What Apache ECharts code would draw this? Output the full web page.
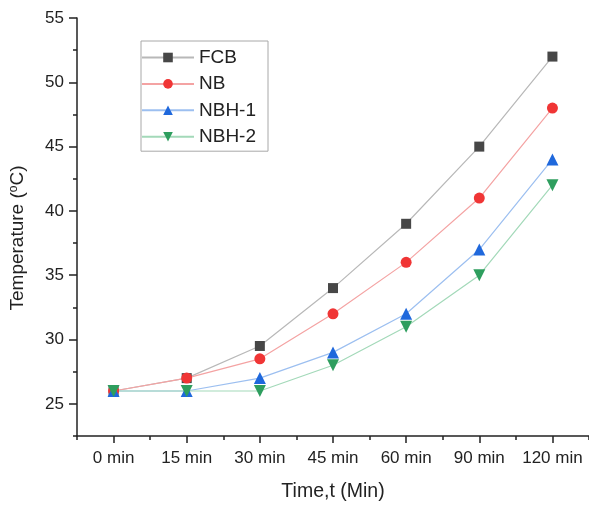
<!DOCTYPE html>
<html>
<head>
<meta charset="utf-8">
<script src="https://cdn.jsdelivr.net/npm/echarts@6/dist/echarts.min.js"></script>
<style>
  html, body { margin: 0; padding: 0; background: #fff; }
  #chart1 { width: 589px; height: 507px; }
</style>
</head>
<body>
<div id="chart1"></div>
<script>
const times = ["0 min", "15 min", "30 min", "45 min", "60 min", "90 min", "120 min"]
const fcb = [26, 27, 29.5, 34, 39, 45, 52]
const nb = [26, 27, 28.5, 32, 36, 41, 48]
const nbh1 = [26, 26, 27, 29, 32, 37, 44]
const nbh2 = [26, 26, 26, 28, 31, 35, 42]
const yTicks = [25, 30, 35, 40, 45, 50, 55]

const font = "Liberation Sans, Arial, sans-serif"

function makeSeries(name, data, markerColor, lineColor, symbol, size, rotate){
  return {
    name: name,
    type: 'line',
    data: data,
    symbol: symbol,
    symbolSize: size,
    symbolRotate: rotate || 0,
    smooth: false,
    itemStyle: { color: markerColor, opacity: 1 },
    lineStyle: { color: lineColor, width: 1.2 },
    emphasis: { disabled: true },
    z: 3
  }
}

let chart = echarts.init(document.getElementById("chart1"), null, { renderer: 'canvas' })

let options = {
  backgroundColor: "white",
  animation: false,
  textStyle: { fontFamily: font },
  // the x axis runs a little past the right edge in the reference
  grid: { left: 72.5, width: 521.5, top: 18, bottom: 69, containLabel: false },
  legend: {
    left: 141,
    top: 41,
    orient: 'vertical',
    padding: [7, 12, 5, 0],
    itemWidth: 52,
    itemHeight: 12,
    itemGap: 7.4,
    borderColor: '#a8a8a8',
    borderWidth: 1,
    textStyle: { fontSize: 19, color: '#222', fontFamily: font },
    data: ["FCB", "NB", "NBH-1", "NBH-2"]
  },
  xAxis: [
    {
      type: 'category',
      data: times,
      boundaryGap: true,
      name: "Time,t (Min)",
      nameLocation: 'middle',
      nameGap: 46,
      nameTextStyle: { fontSize: 19.5, color: '#222', fontFamily: font },
      axisLine: { show: true, lineStyle: { color: '#222', width: 1.5 } },
      axisTick: { show: true, alignWithLabel: true, inside: false, length: 7, lineStyle: { color: '#222', width: 1.5 } },
      axisLabel: { fontSize: 17, color: '#222', margin: 14, interval: 0, fontFamily: font },
      splitLine: { show: false }
    },
    {
      type: 'category',
      data: times,
      boundaryGap: true,
      position: 'bottom',
      offset: 0,
      axisLine: { show: false },
      axisTick: { show: true, alignWithLabel: false, inside: false, length: 4, lineStyle: { color: '#222', width: 1.5 } },
      axisLabel: { show: false },
      splitLine: { show: false }
    }
  ],
  yAxis: [
    {
      type: 'value',
      min: 22.5,
      max: 55,
      interval: 2.5,
      name: "Temperature ({sup|o}C)",
      nameLocation: 'middle',
      nameGap: 49,
      nameTextStyle: {
        fontSize: 19, color: '#222', fontFamily: font,
        padding: [0, 22, 0, 0],
        rich: { sup: { fontSize: 12, verticalAlign: 'top', padding: [0, 0, 8, 0], color: '#222', fontFamily: font } }
      },
      axisLine: { show: true, lineStyle: { color: '#222', width: 1.5 } },
      axisTick: { show: true, inside: false, length: 8, customValues: yTicks, lineStyle: { color: '#222', width: 1.5 } },
      axisLabel: { fontSize: 17, color: '#222', margin: 13, customValues: yTicks, fontFamily: font },
      splitLine: { show: false }
    },
    {
      type: 'value',
      min: 22.5,
      max: 55,
      interval: 2.5,
      position: 'left',
      offset: 0,
      axisLine: { show: false },
      axisTick: { show: true, inside: false, length: 4, lineStyle: { color: '#222', width: 1.5 } },
      axisLabel: { show: false },
      splitLine: { show: false }
    }
  ],
  series: [
    makeSeries("FCB", fcb, "#474747", "#b8b8b8", 'rect', 10),
    makeSeries("NB", nb, "#f03535", "#f4a3a3", 'circle', 11),
    makeSeries("NBH-1", nbh1, "#1f68dc", "#9cbff0", 'triangle', 12),
    makeSeries("NBH-2", nbh2, "#2e9e5e", "#a3d9b9", 'triangle', 12, 180)
  ]
}
chart.setOption(options)
</script>
</body>
</html>
